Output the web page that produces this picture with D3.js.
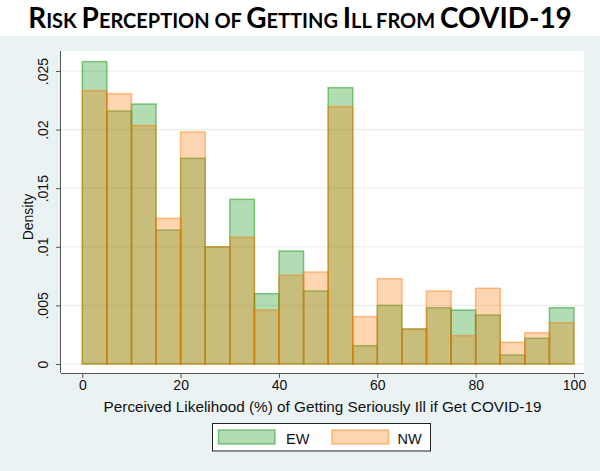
<!DOCTYPE html>
<html><head><meta charset="utf-8">
<script src="https://cdn.jsdelivr.net/npm/d3@7"></script>
<style>body{margin:0;background:#fff}</style></head>
<body><svg id="c" width="600" height="471"></svg>
<script>
const binStarts = [0,5,10,15,20,25,30,35,40,45,50,55,60,65,70,75,80,85,90,95];
const binWidth = 5;
const ewDensity = [0.0258,0.02159,0.02218,0.01143,0.01755,0.0100,0.01405,0.0060,0.00964,0.00623,0.02358,0.00156,0.00501,0.00299,0.0048,0.00461,0.00418,0.00077,0.00219,0.0048];
const nwDensity = [0.02332,0.02306,0.02034,0.01243,0.0198,0.0100,0.01081,0.00461,0.00757,0.00785,0.02196,0.00404,0.00728,0.00299,0.00623,0.00242,0.00646,0.00185,0.00267,0.00352];
const seriesNames = ["EW","NW"];
const xTicks = [0,20,40,60,80,100];
const yTicks = [0,0.005,0.01,0.015,0.02,0.025];
const yTickLabels = ["0",".005",".01",".015",".02",".025"];
const titleParts = [["R",1],["ISK ",0],["P",1],["ERCEPTION OF ",0],["G",1],["ETTING ",0],["I",1],["LL FROM ",0],["COVID-19",1]];
const xTitle = "Perceived Likelihood (%) of Getting Seriously Ill if Get COVID-19";
const yTitle = "Density";

const svg = d3.select("#c");
const colors = {EW: "rgb(0,140,0)", NW: "rgb(255,118,0)"};
const font = "'Liberation Sans', Arial, sans-serif";

// backgrounds
svg.append("rect").attr("x",0).attr("y",36).attr("width",600).attr("height",435).attr("fill","#eaf2f3");
const plot = {l:61, r:584, t:51, b:373};
svg.append("rect").attr("x",plot.l).attr("y",plot.t).attr("width",plot.r-plot.l).attr("height",plot.b-plot.t).attr("fill","#fff");

const x = d3.scaleLinear().domain([0,100]).range([82.3,574]);
const y = d3.scaleLinear().domain([0,0.025]).range([364,71]);

// gridlines
svg.append("g").selectAll("line").data(yTicks).join("line")
  .attr("x1",plot.l).attr("x2",plot.r).attr("y1",d=>y(d)).attr("y2",d=>y(d))
  .attr("stroke","#e8eaea").attr("stroke-width",1);

// bars
const series = [ewDensity, nwDensity];
series.forEach((vals,si)=>{
  const c = colors[seriesNames[si]];
  svg.append("g").selectAll("rect").data(binStarts).join("rect")
    .attr("x",d=>x(d)).attr("width",d=>x(d+binWidth)-x(d))
    .attr("y",(d,i)=>y(vals[i])).attr("height",(d,i)=>y(0)-y(vals[i]))
    .attr("fill",c).attr("fill-opacity",0.3)
    .attr("stroke",c).attr("stroke-opacity",0.45).attr("stroke-width",1.5);
});

// axes
const xAxis = d3.axisBottom(x).tickValues(xTicks).tickSize(5).tickPadding(4).tickFormat(d3.format("d"));
const gx = svg.append("g").attr("transform",`translate(0,${plot.b})`).call(xAxis);
gx.select(".domain").attr("d",`M${plot.l},0.5H${plot.r}`).attr("stroke","#555");
gx.selectAll(".tick line").attr("stroke","#555");
gx.selectAll(".tick text").attr("font-family",font).attr("font-size",14).attr("fill","#111").attr("dy","0.6em");

const yAxis = d3.axisLeft(y).tickValues(yTicks).tickSize(5).tickPadding(0).tickFormat((d,i)=>yTickLabels[i]);
const gy = svg.append("g").attr("transform",`translate(${plot.l},0)`).call(yAxis);
gy.select(".domain").attr("d",`M-0.5,${plot.t}V${plot.b}`).attr("stroke","#555");
gy.selectAll(".tick line").attr("stroke","#555");
gy.selectAll(".tick text").attr("font-family",font).attr("font-size",14).attr("fill","#111")
  .attr("transform","rotate(-90)").attr("x",0).attr("y",-13).attr("dy",0).attr("text-anchor","middle");

// axis titles
const xt = svg.append("text").attr("x",(plot.l+plot.r)/2).attr("y",412).attr("text-anchor","middle")
  .attr("font-family",font).attr("font-size",14).attr("fill","#111").text(xTitle);
const w = xt.node().getComputedTextLength();
xt.attr("font-size",14*438/w);
svg.append("text").attr("transform","translate(33,217) rotate(-90)").attr("text-anchor","middle")
  .attr("font-family",font).attr("font-size",14).attr("fill","#111").text(yTitle);

// legend
const lg = svg.append("g");
lg.append("rect").attr("x",212.5).attr("y",423.5).attr("width",218).attr("height",27.5).attr("fill","#fff").attr("stroke","#222").attr("stroke-width",1);
const lx = [218.5, 332], tx = [286, 397.5];
seriesNames.forEach((s,i)=>{
  lg.append("rect").attr("x",lx[i]).attr("y",430).attr("width",56.5).attr("height",14)
    .attr("fill",colors[s]).attr("fill-opacity",0.3).attr("stroke",colors[s]).attr("stroke-opacity",0.45).attr("stroke-width",1.5);
  lg.append("text").attr("x",tx[i]).attr("y",444).attr("font-family",font).attr("font-size",14.5).attr("fill","#111").text(s);
});

// title small caps
const tt = svg.append("text").attr("x",300).attr("y",28).attr("text-anchor","middle")
  .attr("font-family","Lato, 'Open Sans', sans-serif").attr("font-weight","bold").attr("fill","#000");
const big = 28, small = 20;
titleParts.forEach(([t,b])=>{
  tt.append("tspan").attr("font-size",b?big:small).attr("data-b",b).text(t);
});
const tw = tt.node().getComputedTextLength();
const k = 544/tw;
tt.selectAll("tspan").attr("font-size",function(){return (+this.getAttribute("data-b")?big:small)*k;});
</script>
</body></html>
